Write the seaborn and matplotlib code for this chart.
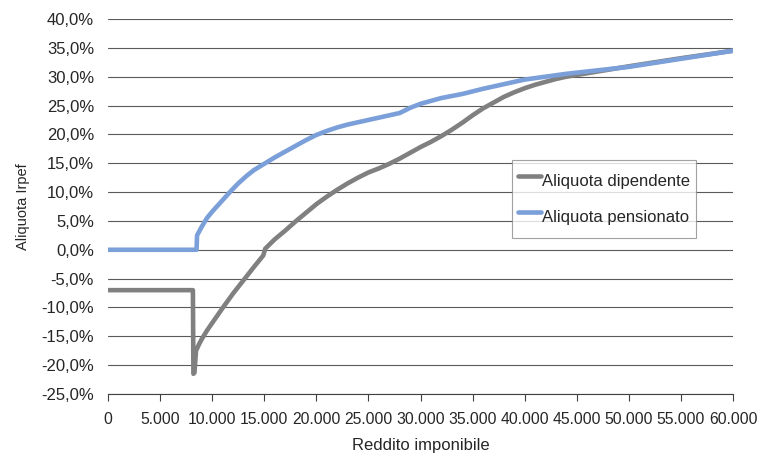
import matplotlib
matplotlib.use("Agg")
import matplotlib.pyplot as plt
import matplotlib.ticker as mticker
import seaborn as sns
import pandas as pd

# Data (aliquota in %)
dip_x = [0, 8150, 8200, 8300, 8450, 8760, 9000, 9500, 10000, 10500, 11000, 12000, 13000,
         14000, 14900, 15100, 16000, 17000, 18000, 19000, 20000, 21000, 22000, 23000,
         24000, 25000, 26000, 27000, 28000, 29000, 30000, 31000, 32000, 33000, 34000,
         35000, 36000, 37000, 38000, 39000, 40000, 41000, 42000, 43000, 44000, 45000,
         46000, 47000, 48000, 50000, 55000, 60000]
dip_y = [-7.0, -7.0, -21.5, -21.3, -17.5, -16.3, -15.5, -14.0, -12.7, -11.4, -10.1, -7.6, -5.3,
         -3.0, -1.0, 0.2, 1.8, 3.3, 4.9, 6.4, 7.9, 9.2, 10.4, 11.5,
         12.5, 13.4, 14.1, 14.9, 15.8, 16.8, 17.8, 18.7, 19.7, 20.8, 22.0,
         23.3, 24.5, 25.5, 26.5, 27.3, 28.0, 28.6, 29.1, 29.6, 30.0, 30.3,
         30.6, 30.9, 31.2, 31.8, 33.2, 34.5]

pen_x = [0, 8500, 8550, 9000, 9500, 10000, 10500, 11000, 11700, 12500, 13300, 14000, 15000,
         16000, 17000, 18000, 19000, 20000, 21000, 22000, 23000, 24000, 25000, 26000,
         27000, 28000, 29000, 30000, 32000, 34000, 36000, 38000, 40000, 42000, 44000,
         46000, 48000, 50000, 55000, 60000]
pen_y = [0.0, 0.0, 2.5, 4.0, 5.5, 6.6, 7.6, 8.6, 10.0, 11.5, 12.8, 13.8, 14.9,
         16.0, 17.0, 18.0, 19.0, 19.9, 20.6, 21.2, 21.7, 22.1, 22.5, 22.9,
         23.3, 23.7, 24.6, 25.3, 26.3, 27.0, 27.9, 28.7, 29.5, 30.0, 30.5,
         30.9, 31.3, 31.7, 33.1, 34.5]

series_names = ["Aliquota dipendente", "Aliquota pensionato"]
x_ticks = list(range(0, 60001, 5000))
y_ticks = list(range(-25, 41, 5))

df = pd.concat([
    pd.DataFrame({"x": dip_x, "y": dip_y, "serie": series_names[0]}),
    pd.DataFrame({"x": pen_x, "y": pen_y, "serie": series_names[1]}),
], ignore_index=True)

sns.set_style("white")
plt.rcParams["font.family"] = ["Liberation Sans", "DejaVu Sans"]

fig = plt.figure(figsize=(7.59, 4.54), dpi=100)
ax = fig.add_axes([108 / 759, 1 - 394 / 454, 625 / 759, 375 / 454])

sns.lineplot(data=df, x="x", y="y", hue="serie", estimator=None, sort=False,
             palette={series_names[0]: "#808080", series_names[1]: "#7B9FD8"},
             linewidth=3.3, ax=ax, zorder=3)

ax.set_xlim(0, 60000)
ax.set_ylim(-25, 40)
ax.set_xticks(x_ticks)
ax.set_yticks(y_ticks)
ax.xaxis.set_major_formatter(mticker.FuncFormatter(
    lambda v, p: "0" if v == 0 else f"{int(v):,}".replace(",", ".")))
ax.yaxis.set_major_formatter(mticker.FuncFormatter(
    lambda v, p: f"{v:.1f}%".replace(".", ",")))

ax.grid(axis="y", color="#5a5a5a", linewidth=0.8)
ax.set_axisbelow(True)
for s in ["top", "right", "left"]:
    ax.spines[s].set_visible(False)
ax.spines["bottom"].set_color("#404040")
ax.spines["bottom"].set_linewidth(0.8)
ax.tick_params(axis="x", direction="out", length=5, width=0.8, color="#404040",
               labelsize=11.3, pad=8, bottom=True)
ax.tick_params(axis="y", length=0, labelsize=12, pad=10)

ax.set_xlabel("Reddito imponibile", fontsize=12, labelpad=8)
ax.set_ylabel("Aliquota Irpef", fontsize=10.5, labelpad=8)

leg = ax.legend(title=None, loc="upper left", bbox_to_anchor=(0.6464, 0.624),
                borderaxespad=0, frameon=True, fancybox=False, fontsize=12,
                handlelength=1.4, handletextpad=0.08, handleheight=2.4,
                labelspacing=0.35, borderpad=0.35)
leg.get_frame().set_edgecolor("#8a8a8a")
leg.get_frame().set_linewidth(0.8)

fig.savefig("out.png", dpi=100)
